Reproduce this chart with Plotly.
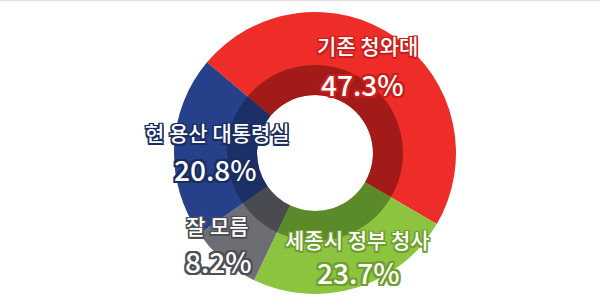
import plotly.graph_objects as go

categories = ["기존 청와대", "세종시 정부 청사", "잘 모름", "현 용산 대통령실"]
values = [47.3, 23.7, 8.2, 20.8]
colors_outer = ["#EE2D29", "#8CC43F", "#6D6E74", "#26408A"]
colors_inner = ["#A31B19", "#5B8A2B", "#4A4B51", "#1C2F66"]
outline = ["#C81F1C", "#6E9E30", "#4E4F55", "#1A2C60"]
label_pos = [(367, 45, 362, 84), (357, 239, 358, 272), (217, 225, 218, 261), (217, 132, 215, 169)]

W, H = 600, 300
cx, cy = 315, 153
R_out, R_mid, R_in = 141, 88, 58


def dom(r):
    return dict(x=[(cx - r) / W, (cx + r) / W], y=[(H - cy - r) / H, (H - cy + r) / H])


fig = go.Figure()
fig.add_trace(go.Pie(values=values, labels=categories, marker=dict(colors=colors_outer, line=dict(width=0)),
                     hole=R_in / R_out, sort=False, direction="clockwise", rotation=-50,
                     textinfo="none", hoverinfo="label+percent", domain=dom(R_out), showlegend=False))
fig.add_trace(go.Pie(values=values, labels=categories, marker=dict(colors=colors_inner, line=dict(width=0)),
                     hole=R_in / R_mid, sort=False, direction="clockwise", rotation=-50,
                     textinfo="none", hoverinfo="skip", domain=dom(R_mid), showlegend=False))


def shadow(c, w=1.5):
    parts = []
    for dx in (-w, 0, w):
        for dy in (-w, 0, w):
            if dx or dy:
                parts.append(f"{dx}px {dy}px 0 {c}")
    return ", ".join(parts)


for cat, v, (lx, ly, px, py), oc in zip(categories, values, label_pos, outline):
    fig.add_annotation(x=lx / W, y=1 - ly / H, xref="paper", yref="paper", text=cat, showarrow=False,
                       xanchor="center", yanchor="middle",
                       font=dict(family="Noto Sans CJK KR", size=21, color="white", weight=500, shadow=shadow(oc)))
    fig.add_annotation(x=px / W, y=1 - py / H, xref="paper", yref="paper", text=f"{v}%", showarrow=False,
                       xanchor="center", yanchor="middle",
                       font=dict(family="Noto Sans CJK KR", size=28, color="white", weight=500, shadow=shadow(oc, 2)))

fig.add_shape(type="line", xref="paper", yref="paper", x0=0, x1=1, y0=1 - 0.5 / H, y1=1 - 0.5 / H,
              line=dict(color="#E3E3E3", width=1.5))

fig.update_layout(width=W, height=H, margin=dict(l=0, r=0, t=0, b=0),
                  paper_bgcolor="white", plot_bgcolor="white")
fig.write_html("out.html")
